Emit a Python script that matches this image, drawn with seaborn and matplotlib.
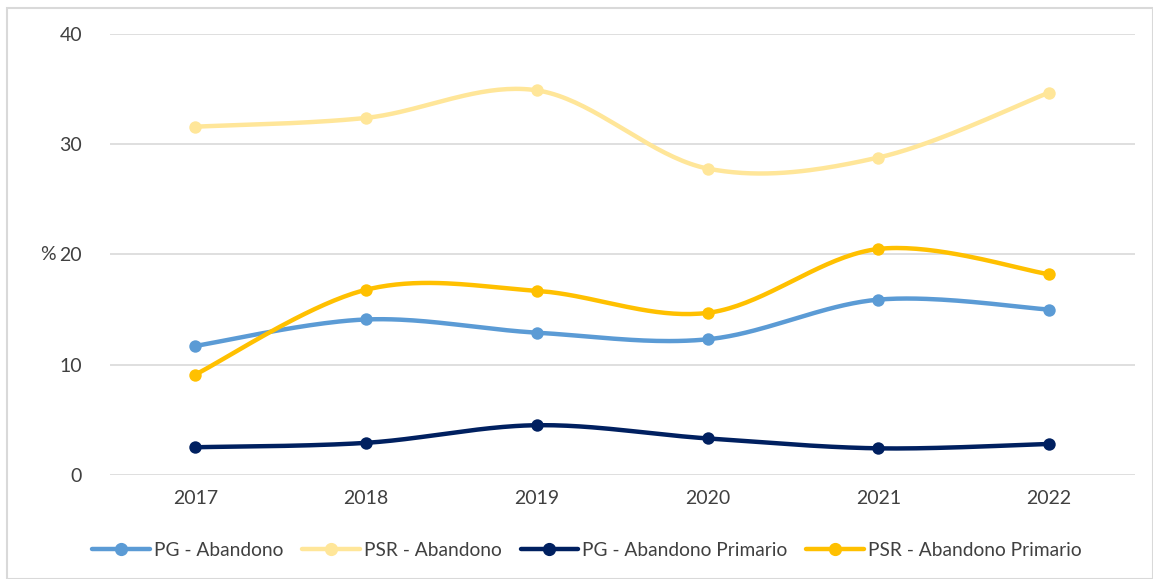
import numpy as np
import pandas as pd
import matplotlib
matplotlib.use("Agg")
import matplotlib.pyplot as plt
from matplotlib.lines import Line2D
from matplotlib.patches import Rectangle
import seaborn as sns

years = ["2017", "2018", "2019", "2020", "2021", "2022"]
pg_abandono = [11.7, 14.1, 12.9, 12.3, 15.9, 15.0]
psr_abandono = [31.6, 32.4, 34.9, 27.8, 28.8, 34.7]
pg_primario = [2.5, 2.9, 4.5, 3.3, 2.4, 2.8]
psr_primario = [9.1, 16.8, 16.7, 14.7, 20.5, 18.2]

series_names = ["PG - Abandono", "PSR - Abandono", "PG - Abandono Primario", "PSR - Abandono Primario"]
series_values = [pg_abandono, psr_abandono, pg_primario, psr_primario]
colors = ["#5B9BD5", "#FFE699", "#002060", "#FFC000"]

sns.set_theme(style="white")
plt.rcParams['font.family'] = ['Lato', 'DejaVu Sans']


def smooth(xs, ys, n=40):
    # Excel-like smoothing: cubic Bezier with control points from neighbours (Catmull-Rom)
    xs = np.asarray(xs, float)
    ys = np.asarray(ys, float)
    P = np.column_stack([xs, ys])
    out = []
    m = len(P)
    for i in range(m - 1):
        p0 = P[i - 1] if i > 0 else P[i]
        p1 = P[i]
        p2 = P[i + 1]
        p3 = P[i + 2] if i + 2 < m else P[i + 1]
        c1 = p1 + (p2 - p0) / 6.0
        c2 = p2 - (p3 - p1) / 6.0
        t = np.linspace(0, 1, n, endpoint=(i == m - 2))[:, None]
        b = ((1 - t) ** 3) * p1 + 3 * ((1 - t) ** 2) * t * c1 + 3 * (1 - t) * t ** 2 * c2 + t ** 3 * p2
        out.append(b)
    out = np.vstack(out)
    return out[:, 0], out[:, 1]


fig = plt.figure(figsize=(11.53, 5.79), dpi=100)
ax = fig.add_axes([0.0954, 0.180, 0.8886, 0.761])

x_idx = np.arange(len(years))
handles = []
for name, vals, col in zip(series_names, series_values, colors):
    sx, sy = smooth(x_idx, vals)
    sdf = pd.DataFrame({"x": sx, "y": sy})
    sns.lineplot(data=sdf, x="x", y="y", ax=ax, color=col, linewidth=3.2, sort=False,
                 solid_capstyle="round", zorder=3)
    pdf = pd.DataFrame({"x": x_idx, "y": vals})
    sns.scatterplot(data=pdf, x="x", y="y", ax=ax, color=col, s=80, edgecolor=col,
                    linewidth=0, zorder=4)
    handles.append(Line2D([0], [0], color=col, lw=3.2, marker="o", markersize=8.5, label=name))

ax.set_xlim(-0.5, 5.5)
ax.set_ylim(0, 40)
ax.set_yticks([0, 10, 20, 30, 40])
ax.set_xticks(x_idx)
ax.set_xticklabels(years)
ax.set_xlabel("")
ax.set_ylabel("")
ax.grid(axis="y", color="#D9D9D9", linewidth=1.2)
ax.set_axisbelow(True)
for s in ax.spines.values():
    s.set_visible(False)
ax.tick_params(axis="both", length=0, labelsize=14, labelcolor="#404040", pad=11)
ax.tick_params(axis="y", pad=20)

fig.text(0.042, 1 - 255 / 579, "%", fontsize=14, color="#404040", va="center", ha="center")

leg = fig.legend(handles=handles, loc="center", bbox_to_anchor=(0.509, 1 - 550 / 579), ncol=4,
                 frameon=False, fontsize=13.8, handlelength=3.0, columnspacing=1.0, handletextpad=0.2)
for t in leg.get_texts():
    t.set_color("#404040")

fig.patches.append(Rectangle((0.006, 0.0), 0.994, 0.986, transform=fig.transFigure,
                             fill=False, edgecolor="#D9D9D9", linewidth=1.5))

fig.savefig("out.png", dpi=100, facecolor="white")
